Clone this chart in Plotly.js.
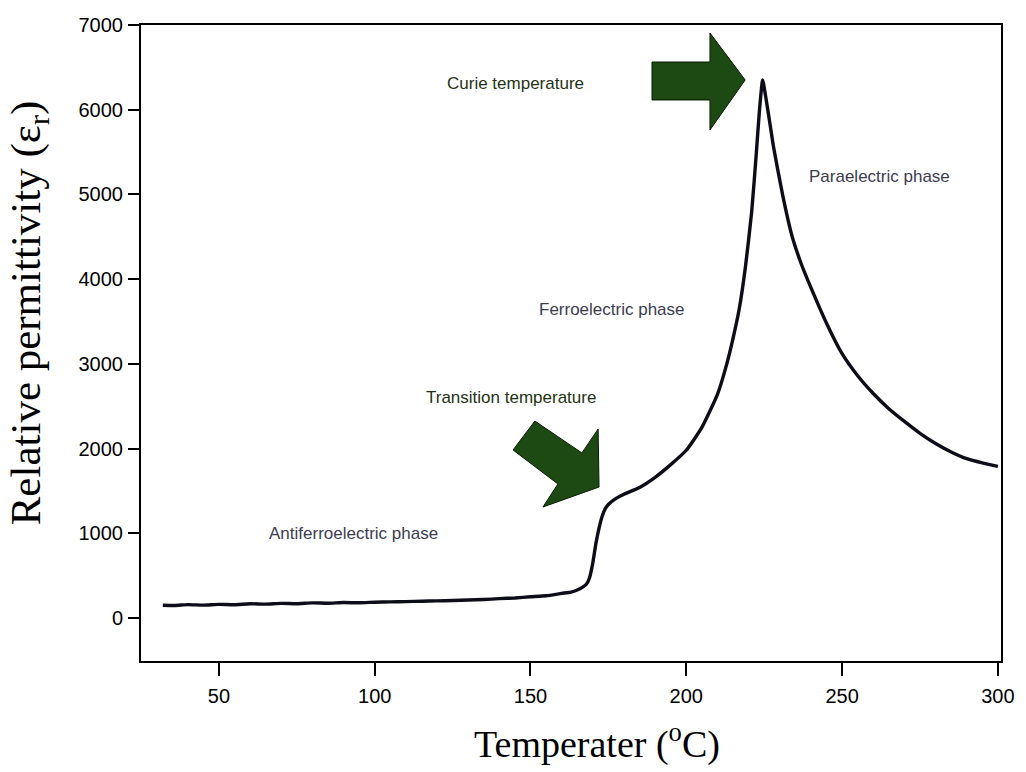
<!DOCTYPE html>
<html>
<head>
<meta charset="utf-8">
<script src="https://cdn.plot.ly/plotly-3.0.1.min.js"></script>
<style>html,body{margin:0;padding:0;background:#fff;}#chart{width:1026px;height:772px;}</style>
</head>
<body>
<div id="chart"></div>
<script>
// Temperature (°C)
const temperature = [32, 36, 40, 45, 50, 55, 60, 65, 70, 75, 80, 85, 90, 95, 100, 105, 110, 115, 120, 125, 130, 135, 140, 145, 150, 155, 160, 163, 165, 167, 168, 169, 170, 171, 172, 173, 174, 175, 177, 180, 185, 190, 195, 200, 205, 210, 213, 215, 217, 219, 221, 222.5, 223.5, 224.5, 225.5, 227, 228, 231, 234, 237, 240, 245, 250, 255, 260, 265, 270, 275, 280, 285, 290, 295, 300];
// Relative permittivity (εr)
const permittivity = [150, 148, 158, 152, 160, 156, 168, 163, 172, 168, 178, 174, 182, 179, 186, 190, 193, 198, 202, 206, 212, 218, 228, 236, 250, 262, 290, 305, 330, 370, 400, 480, 650, 880, 1060, 1200, 1290, 1340, 1400, 1460, 1540, 1660, 1810, 1980, 2250, 2640, 3000, 3300, 3650, 4150, 4800, 5500, 6000, 6350, 6150, 5800, 5560, 4980, 4500, 4170, 3900, 3480, 3120, 2860, 2650, 2470, 2320, 2180, 2060, 1960, 1880, 1830, 1790];

const xTicks = [50, 100, 150, 200, 250, 300];
const yTicks = [0, 1000, 2000, 3000, 4000, 5000, 6000, 7000];

const xTitle = 'Temperater (<sup>o</sup>C)';
const yTitle = 'Relative permittivity (ε<sub>r</sub>)';

const labels = ["Curie temperature", "Paraelectric phase", "Ferroelectric phase", "Transition temperature", "Antiferroelectric phase"];
const labelX = [145.2, 261.9, 176.2, 143.8, 93.3];
const labelY = [6304, 5206, 3636, 2597, 992];
const labelColors = ["#1f3314", "#3c3c50", "#3c3c50", "#1f3314", "#3c3c50"];

// Arrow outlines (data coordinates)
const curieArrowX = [189.0, 207.6, 207.6, 218.9, 207.6, 207.6, 189.0];
const curieArrowY = [6563, 6563, 6906, 6351, 5761, 6115, 6115];
const transArrowX = [151.4, 166.5, 171.7, 172.0, 154.0, 158.8, 144.4];
const transArrowY = [2325, 1948, 2231, 1546, 1310, 1582, 1983];

function pathOf(xs, ys) {
  return xs.map((x, i) => (i === 0 ? 'M ' : 'L ') + x + ',' + ys[i]).join(' ') + ' Z';
}

const trace = {
  x: temperature,
  y: permittivity,
  type: 'scatter',
  mode: 'lines',
  line: {color: '#0d0d1a', width: 3.4, shape: 'spline', smoothing: 0.5},
  hoverinfo: 'x+y',
  showlegend: false
};

const annotations = labels.map((t, i) => ({
  x: labelX[i], y: labelY[i], xref: 'x', yref: 'y',
  text: t, showarrow: false,
  font: {family: 'Liberation Sans, Arial, sans-serif', size: 17, color: labelColors[i]}
}));

const titleFont = {family: 'Liberation Serif, Times New Roman, serif', color: '#000'};
annotations.push({
  xref: 'paper', yref: 'paper', x: 0.530, y: -0.127, xanchor: 'center', yanchor: 'middle',
  text: xTitle, showarrow: false, font: Object.assign({size: 38}, titleFont)
});
annotations.push({
  xref: 'paper', yref: 'paper', x: -0.130, y: 0.547, xanchor: 'center', yanchor: 'middle',
  textangle: -90, text: yTitle, showarrow: false, font: Object.assign({size: 43}, titleFont)
});

const arrowStyle = {type: 'path', xref: 'x', yref: 'y', fillcolor: '#1d4a12', line: {color: '#0a1a06', width: 1}, layer: 'above'};

const layout = {
  width: 1026, height: 772,
  margin: {l: 141, r: 25, t: 25, b: 111},
  paper_bgcolor: '#ffffff', plot_bgcolor: '#ffffff',
  font: {family: 'Liberation Sans, Arial, sans-serif', color: '#000'},
  xaxis: {
    range: [25, 301],
    tickvals: xTicks,
    ticktext: xTicks.map(String),
    ticks: 'outside', ticklen: 13, tickwidth: 2, tickcolor: '#000',
    ticklabelstandoff: 3,
    showline: true, linewidth: 2, linecolor: '#000', mirror: true,
    showgrid: false, zeroline: false,
    tickfont: {size: 20, color: '#000'}
  },
  yaxis: {
    range: [-508, 7000],
    tickvals: yTicks,
    ticktext: yTicks.map(String),
    ticks: 'outside', ticklen: 11, tickwidth: 2, tickcolor: '#000',
    ticklabelstandoff: 1,
    showline: true, linewidth: 2, linecolor: '#000', mirror: true,
    showgrid: false, zeroline: false,
    tickfont: {size: 20, color: '#000'}
  },
  annotations: annotations,
  shapes: [
    Object.assign({path: pathOf(curieArrowX, curieArrowY)}, arrowStyle),
    Object.assign({path: pathOf(transArrowX, transArrowY)}, arrowStyle)
  ]
};

Plotly.newPlot('chart', [trace], layout, {displayModeBar: false, staticPlot: true});
</script>
</body>
</html>
